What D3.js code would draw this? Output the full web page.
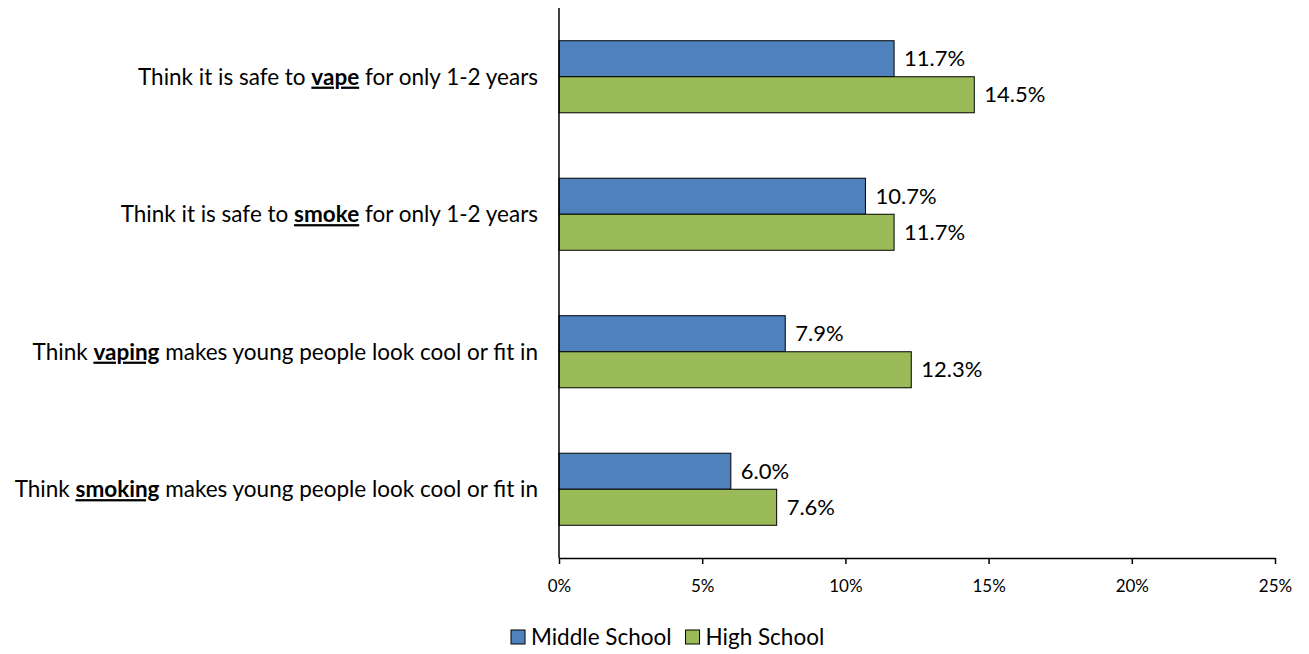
<!DOCTYPE html>
<html>
<head>
<meta charset="utf-8">
<script src="https://cdn.jsdelivr.net/npm/d3@7"></script>
<style>
  html, body { margin: 0; padding: 0; background: #fff; }
  svg { display: block; font-family: Lato, "Open Sans", "Noto Sans", sans-serif; }
</style>
</head>
<body>
<svg id="chart" width="1309" height="654"></svg>
<script>
// Category labels: [text before, emphasised word, text after]
const categories = [
  ["Think it is safe to ", "vape", " for only 1-2 years"],
  ["Think it is safe to ", "smoke", " for only 1-2 years"],
  ["Think ", "vaping", " makes young people look cool or fit in"],
  ["Think ", "smoking", " makes young people look cool or fit in"]
];
const seriesNames = ["Middle School", "High School"];
const seriesColors = ["#4F81BD", "#9BBB59"];
const middleSchool = [11.7, 10.7, 7.9, 6.0];
const highSchool = [14.5, 11.7, 12.3, 7.6];
const xTicks = [0, 5, 10, 15, 20, 25];

const series = [middleSchool, highSchool];
const svg = d3.select("#chart");
const margin = { left: 559, right: 34, top: 8, bottom: 96 };
const W = 1309, H = 654;
const labelSize = 22.5;

const x = d3.scaleLinear().domain([0, 25]).range([margin.left, W - margin.right]);
const y = d3.scaleBand().domain(d3.range(categories.length))
  .range([margin.top, H - margin.bottom]).paddingInner(0.476).paddingOuter(0.238);
const yInner = d3.scaleBand().domain(d3.range(series.length)).range([0, y.bandwidth()]);

// Bars and value labels
series.forEach((vals, s) => {
  const g = svg.append("g");
  g.selectAll("rect").data(vals).join("rect")
    .attr("x", x(0))
    .attr("y", (d, i) => y(i) + yInner(s))
    .attr("width", d => x(d) - x(0))
    .attr("height", yInner.bandwidth())
    .attr("fill", seriesColors[s])
    .attr("stroke", "#000")
    .attr("stroke-width", 1);
  g.selectAll("text").data(vals).join("text")
    .attr("x", d => x(d) + 10)
    .attr("y", (d, i) => y(i) + yInner(s) + yInner.bandwidth() / 2)
    .attr("dy", "0.35em")
    .attr("font-size", 22)
    .attr("fill", "#000")
    .text(d => d.toFixed(1) + "%");
});

// X axis
const xAxis = svg.append("g")
  .attr("transform", `translate(0,${H - margin.bottom})`)
  .call(d3.axisBottom(x).tickValues(xTicks).tickSize(6).tickSizeOuter(0).tickFormat(d => d + "%"));
xAxis.attr("font-family", null).attr("font-size", null);
xAxis.select(".domain").attr("stroke", "#000").attr("stroke-width", 1.5);
xAxis.selectAll(".tick line").attr("stroke", "#000").attr("stroke-width", 1.5);
xAxis.selectAll(".tick text").attr("font-size", 17).attr("fill", "#000").attr("y", 22).attr("dy", "0.71em");

// Y axis line
svg.append("line")
  .attr("x1", x(0)).attr("x2", x(0))
  .attr("y1", margin.top).attr("y2", H - margin.bottom)
  .attr("stroke", "#000").attr("stroke-width", 1.5);

// Category labels with the key word bold and underlined
categories.forEach((parts, i) => {
  const t = svg.append("text")
    .attr("x", x(0) - 21)
    .attr("y", y(i) + y.bandwidth() / 2)
    .attr("dy", "0.35em")
    .attr("text-anchor", "end")
    .attr("font-size", labelSize)
    .attr("fill", "#000");
  t.append("tspan").text(parts[0]);
  t.append("tspan").attr("font-weight", "bold").attr("text-decoration", "underline").text(parts[1]);
  t.append("tspan").text(parts[2]);
});

// Legend
const legend = svg.append("g").attr("transform", "translate(511,637)");
let lx = 0;
seriesNames.forEach((name, s) => {
  legend.append("rect").attr("x", lx).attr("y", -7).attr("width", 14).attr("height", 14)
    .attr("fill", seriesColors[s]).attr("stroke", "#000").attr("stroke-width", 1);
  const txt = legend.append("text").attr("x", lx + 20).attr("y", 0).attr("dy", "0.35em")
    .attr("font-size", labelSize).attr("fill", "#000").text(name);
  lx += 20 + txt.node().getComputedTextLength() + 14;
});
</script>
</body>
</html>
